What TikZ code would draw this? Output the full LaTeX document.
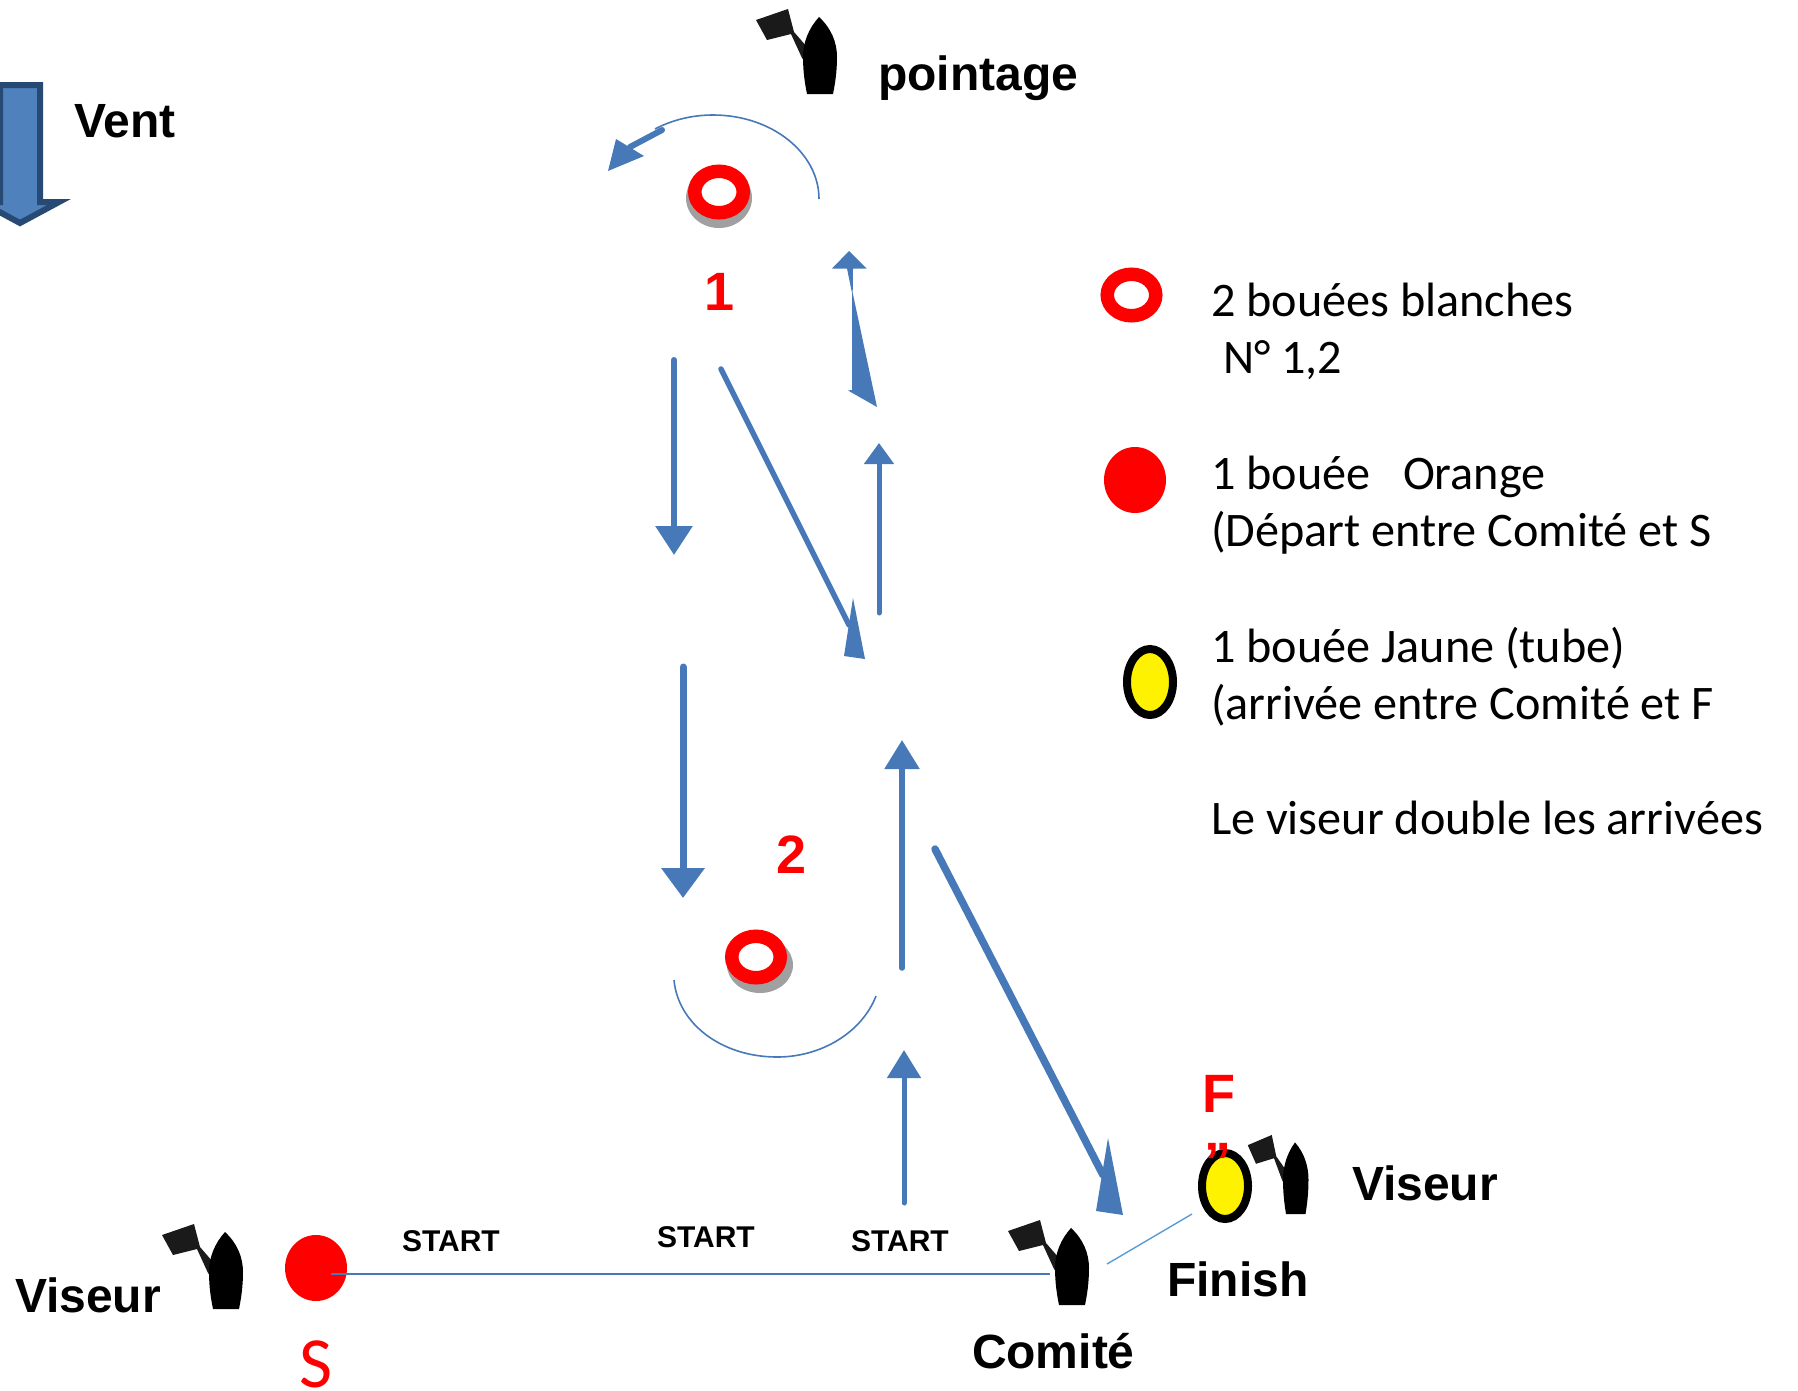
\documentclass[tikz,border=0pt]{standalone}
\usepackage{fontspec}
\setmainfont{Liberation Sans}
\newfontfamily\legendfont{Carlito}
\usetikzlibrary{arrows.meta,shapes.geometric}
\definecolor{flowblue}{HTML}{4779B9}
\definecolor{thinblue}{HTML}{5B9BD5}
\definecolor{ventfill}{HTML}{4F81BD}
\definecolor{ventline}{HTML}{264A73}
\definecolor{shadowgrey}{HTML}{A0A0A0}
\definecolor{flaggrey}{HTML}{1A1A1A}
\tikzset{
  x=1pt,y=-1pt,
  lab/.style={inner sep=0,outer sep=0,anchor=base west,font=\bfseries\fontsize{48}{50}\selectfont,text=black},
  redlab/.style={inner sep=0,outer sep=0,anchor=base west,font=\bfseries\fontsize{54}{56}\selectfont,text=red},
  startlab/.style={inner sep=0,outer sep=0,anchor=base west,font=\bfseries\fontsize{30}{34}\selectfont,text=black},
  legend/.style={inner sep=0,outer sep=0,anchor=base west,font=\legendfont\fontsize{48.2}{50}\selectfont,text=black},
  flow/.style={draw=flowblue,line cap=round,line width=#1},
  flow/.default=5pt,
  thinarc/.style={draw=flowblue,line width=1.6pt},
  headfill/.style={fill=flowblue,draw=none},
  ringbuoy/.style={ellipse,draw=red,fill=white,line width=13.5pt,minimum width=48.5pt,minimum height=41.5pt,inner sep=0,outer sep=0},
  shadowbuoy/.style={ellipse,fill=shadowgrey,inner sep=0,outer sep=0},
  diskbuoy/.style={ellipse,fill=red,minimum width=62pt,minimum height=66pt,inner sep=0,outer sep=0},
  tubebuoy/.style={ellipse,draw=black,fill=yellow,line width=8pt,minimum width=46pt,minimum height=66pt,inner sep=0,outer sep=0},
  boatpic/.pic={
    \fill[flaggrey] (-63,-74) -- (-31,-85) -- (-25,-62) -- (-12,-47) -- (-12,-30) -- (-17,-36) -- (-28,-60) -- (-52,-54) -- cycle;
    \fill[black] (0,-77) .. controls (12,-66) and (18,-52) .. (18,-37)
      .. controls (18,-22) and (16,-10) .. (14,0) -- (-12,0)
      .. controls (-14,-10) and (-16,-22) .. (-16,-37)
      .. controls (-16,-52) and (-10,-66) .. (0,-77) -- cycle;
  }
}
\begin{document}
\begin{tikzpicture}
\useasboundingbox (0,0) rectangle (1798,1390);
\clip (0,0) rectangle (1798,1390);

% wind arrow
\draw[fill=ventfill,draw=ventline,line width=6pt,miter limit=10]
  (0,85) -- (40,85) -- (40,202) -- (59,202) -- (20,223) -- (-19,202) -- (0,202) -- cycle;
\node[lab] (vent) at (74,137) {Vent};

% boats
\pic at (819,94) {boatpic};
\pic at (225,1309) {boatpic};
\pic at (1071,1305) {boatpic};
\pic[xscale=.75,yscale=.93] at (1295,1214) {boatpic};

\node[lab] (pointage) at (878,90) {pointage};
\node[lab] (viseurL) at (15,1312) {Viseur};
\node[lab] (viseurR) at (1352,1200) {Viseur};
\node[lab] (finish) at (1167,1296) {Finish};
\node[lab] (comite) at (972,1368) {Comité};

% buoy 1
\node[shadowbuoy,minimum width=66pt,minimum height=60pt] (shadowA) at (719,198) {};
\node[ringbuoy] (buoyA) at (719,192) {};
\node[redlab] (numA) at (704,310) {1};
% buoy 2
\node[shadowbuoy,minimum width=66pt,minimum height=56pt] (shadowB) at (760,965) {};
\node[ringbuoy] (buoyB) at (756,957) {};
\node[redlab] (numB) at (776,873) {2};

% course arcs
\coordinate (arcAstart) at (819,199);
\coordinate (arcAtop) at (713,115);
\coordinate (arcAend) at (655,129);
\draw[thinarc] (arcAstart) .. controls (819,153) and (772,115) .. (arcAtop)
  .. controls (692,115) and (672,120) .. (arcAend);
\coordinate (arcBstart) at (674,980);
\coordinate (arcBbot) at (777,1057);
\coordinate (arcBend) at (876,996);
\draw[thinarc] (arcBstart) .. controls (678,1024) and (722,1057) .. (arcBbot)
  .. controls (822,1057) and (862,1032) .. (arcBend);

% arrow at the top, after the arc
\coordinate (topS) at (662,130);
\coordinate (topE) at (630,147);
\draw[flow=6pt] (topS) -- (topE);
\fill[headfill] (608,171) -- (616,139) -- (644,156) -- cycle;

% down legs
\coordinate (d1s) at (674,360);
\coordinate (d1e) at (674,555);
\draw[flow=6pt,-{Triangle[length=29pt,width=36pt]}] (d1s) -- (d1e);
\coordinate (d2s) at (683,667);
\coordinate (d2e) at (683,898);
\draw[flow=7pt,-{Triangle[length=30pt,width=42pt]}] (d2s) -- (d2e);

% diagonal 1
\coordinate (g1s) at (721,369);
\coordinate (g1e) at (849,625);
\draw[flow=5.5pt] (g1s) -- (g1e);
\fill[headfill] (865,659) -- (853,598) -- (844,656) -- cycle;

% diagonal 2
\coordinate (g2s) at (935,849);
\coordinate (g2e) at (1103,1175);
\draw[flow=7.5pt] (g2s) -- (g2e);
\fill[headfill] (1123,1215) -- (1108,1138) -- (1096,1211) -- cycle;

% up legs
\coordinate (u1s) at (879,613);
\coordinate (u1e) at (879,443);
\draw[flow=5pt,-{Triangle[length=21pt,width=29pt]}] (u1s) -- (u1e);
\coordinate (u2s) at (902,968);
\coordinate (u2e) at (902,740);
\draw[flow=5.5pt,-{Triangle[length=29pt,width=34pt]}] (u2s) -- (u2e);
\coordinate (u3s) at (904,1203);
\coordinate (u3e) at (904,1050);
\draw[flow=5pt,-{Triangle[length=28pt,width=33pt]}] (u3s) -- (u3e);

% deformed arrow near top
\fill[headfill] (849,251) -- (832,268.5) -- (847,268.5) -- (852,293) -- (852,390) -- (848,390.5)
  -- (877,407) -- (852.7,293) -- (853,268.5) -- (866.5,268.5) -- cycle;

% start line and finish line
\node[diskbuoy] (buoyS) at (316,1268) {};
\coordinate (lineS) at (331,1274);
\coordinate (lineC) at (1050,1274);
\draw[draw=flowblue,line width=2pt] (lineS) -- (lineC);
\node[tubebuoy] (buoyF) at (1225,1186) {};
\coordinate (finC) at (1107,1264);
\coordinate (finF) at (1192,1214);
\draw[draw=thinblue,line width=1.4pt] (finC) -- (finF);

\node[redlab] (markF) at (1202,1112) {F};
\node[redlab] (markQ) at (1204,1180) {”};
\node[inner sep=0,outer sep=0,anchor=base west,text=red,font=\legendfont\fontsize{72}{76}\selectfont] (markS) at (299,1387) {S};

\node[startlab] (st1) at (402,1251) {START};
\node[startlab] (st2) at (657,1247) {START};
\node[startlab] (st3) at (851,1251) {START};

% legend
\node[ringbuoy] (legA) at (1131.5,295) {};
\node[diskbuoy] (legB) at (1135,480) {};
\node[tubebuoy] (legC) at (1150,682) {};
\node[legend] (t1) at (1211,316) {2 bouées blanches};
\node[legend] (t2) at (1223,373) {N° 1,2};
\node[legend] (t3) at (1211,489) {1 bouée\ \ \ Orange};
\node[legend] (t4) at (1211,546) {(Départ entre Comité et S};
\node[legend] (t5) at (1211,662) {1 bouée Jaune (tube)};
\node[legend] (t6) at (1211,719) {(arrivée entre Comité et F};
\node[legend] (t7) at (1211,834) {Le viseur double les arrivées};
\end{tikzpicture}
\end{document}
